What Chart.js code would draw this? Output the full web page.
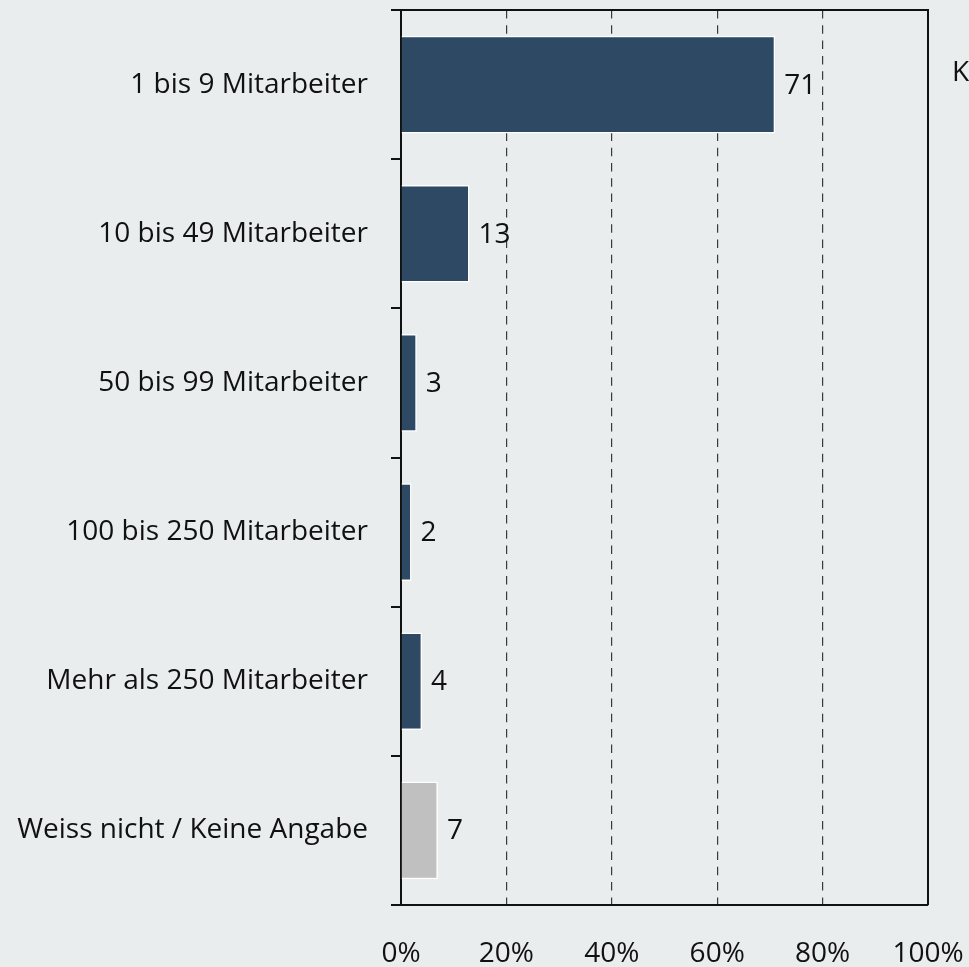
<!DOCTYPE html>
<html>
<head>
<meta charset="utf-8">
<script src="https://cdn.jsdelivr.net/npm/chart.js@4/dist/chart.umd.min.js"></script>
<style>
  html, body { margin: 0; padding: 0; background: #e9edee; }
  #wrap { width: 969px; height: 967px; position: relative; }
</style>
</head>
<body>
<div id="wrap"><canvas id="chart"></canvas></div>
<script>
// Kategorien und Werte (Anteil in %)
const kategorien = [
    '1 bis 9 Mitarbeiter',
    '10 bis 49 Mitarbeiter',
    '50 bis 99 Mitarbeiter',
    '100 bis 250 Mitarbeiter',
    'Mehr als 250 Mitarbeiter',
    'Weiss nicht / Keine Angabe'
];
const werte = [71, 13, 3, 2, 4, 7];
const xTicks = [0, 20, 40, 60, 80, 100];
const randText = 'Keine Angabe';

const FONT = "'Open Sans', 'Noto Sans', sans-serif";
const FONT_SIZE = 28;
const dunkel = '#2d4964';
const grau = '#c0c0c0';

// letzte Kategorie ist "weiss nicht" -> grau
const farben = kategorien.map((k, i) => i === kategorien.length - 1 ? grau : dunkel);

const rahmenPlugin = {
    id: 'rahmen',
    afterDraw(chart) {
        const { ctx, chartArea: a } = chart;
        ctx.save();
        ctx.strokeStyle = '#111';
        ctx.lineWidth = 2;
        ctx.beginPath();
        ctx.moveTo(a.left, a.top);
        ctx.lineTo(a.right, a.top);
        ctx.lineTo(a.right, a.bottom);
        ctx.stroke();

        // abgeschnittener Text rechts oben
        ctx.fillStyle = '#111';
        ctx.font = `${FONT_SIZE}px ${FONT}`;
        ctx.textBaseline = 'middle';
        ctx.fillText(randText, a.right + 24, 73);
        ctx.restore();
    }
};

const wertePlugin = {
    id: 'werte',
    afterDatasetsDraw(chart) {
        const { ctx } = chart;
        const meta = chart.getDatasetMeta(0);
        ctx.save();
        ctx.fillStyle = '#111';
        ctx.font = `${FONT_SIZE}px ${FONT}`;
        ctx.textBaseline = 'middle';
        meta.data.forEach((bar, i) => {
            ctx.fillText(String(werte[i]), bar.x + 9, bar.y + 1);
        });
        ctx.restore();
    }
};

new Chart(document.getElementById('chart'), {
    type: 'bar',
    data: {
        labels: kategorien,
        datasets: [{
            data: werte,
            backgroundColor: farben,
            borderColor: '#ffffff',
            borderWidth: 1.5,
            barPercentage: 0.655,
            categoryPercentage: 1
        }]
    },
    options: {
        indexAxis: 'y',
        responsive: true,
        maintainAspectRatio: false,
        animation: false,
        layout: { padding: { top: 10, right: 41, left: 0, bottom: 0 } },
        plugins: { legend: { display: false }, tooltip: { enabled: false } },
        scales: {
            x: {
                min: 0, max: 100,
                afterBuildTicks: (s) => { s.ticks = xTicks.map(v => ({ value: v })); },
                afterFit: (s) => { s.height = 62; s.paddingLeft = 0; s.paddingRight = 0; },
                ticks: {
                    callback: v => v + '%',
                    color: '#111',
                    font: { family: FONT, size: FONT_SIZE },
                    padding: 32,
                    maxRotation: 0
                },
                grid: {
                    drawTicks: false,
                    color: c => (c.tick && (c.tick.value === 0 || c.tick.value === 100)) ? 'rgba(0,0,0,0)' : '#3a3a3a',
                    lineWidth: 1.2
                },
                border: { color: '#111', width: 2, dash: [8.5, 6.8] }
            },
            y: {
                afterFit: (s) => { s.width = 401; s.paddingTop = 0; s.paddingBottom = 0; },
                ticks: {
                    color: '#111',
                    font: { family: FONT, size: FONT_SIZE },
                    padding: 23
                },
                grid: {
                    drawOnChartArea: false,
                    drawTicks: true,
                    tickLength: 10,
                    color: '#111',
                    lineWidth: 2
                },
                border: { color: '#111', width: 2 }
            }
        }
    },
    plugins: [wertePlugin, rahmenPlugin]
});
</script>
</body>
</html>
